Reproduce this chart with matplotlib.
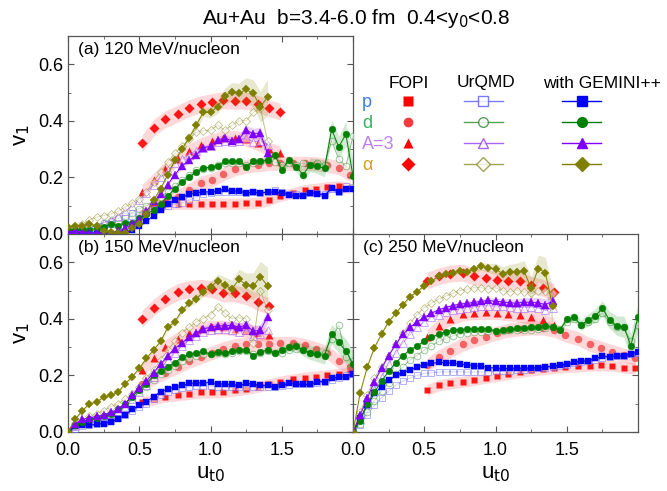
import matplotlib
matplotlib.use('Agg')
import matplotlib.pyplot as plt
from matplotlib.lines import Line2D
from matplotlib.ticker import MultipleLocator

plt.rcParams['font.family'] = ['Liberation Sans', 'DejaVu Sans']
NARROW = ['Liberation Sans Narrow', 'Liberation Sans', 'DejaVu Sans']

# --- rejilla de u_t0 ---
u_model = [0.00, 0.05, 0.10, 0.15, 0.20, 0.25, 0.30, 0.35, 0.40, 0.45,
           0.50, 0.55, 0.60, 0.65, 0.70, 0.75, 0.80, 0.85, 0.90, 0.95,
           1.00, 1.05, 1.10, 1.15, 1.20, 1.25, 1.30, 1.35, 1.40, 1.45,
           1.50, 1.55, 1.60, 1.65, 1.70, 1.75, 1.80, 1.85, 1.90, 1.95, 2.00]
u_fopi = [0.52, 0.60, 0.68, 0.77, 0.85, 0.93, 1.01, 1.09, 1.17, 1.25,
          1.33, 1.41, 1.49, 1.58, 1.66, 1.74, 1.82, 1.90, 1.98]

# --- (a) 120 MeV/nucleon ---
fopi_a_al = [0.32, 0.375, 0.405, 0.425, 0.445, 0.458, 0.467, 0.473, 0.471, 0.471, 0.46, 0.445, 0.433]
fopi_a_t = [0.15, 0.19, 0.23, 0.265, 0.295, 0.315, 0.33, 0.34, 0.34, 0.335, 0.32, 0.30, 0.285]
fopi_a_d = [0.075, 0.095, 0.112, 0.132, 0.155, 0.18, 0.19, 0.212, 0.23, 0.24, 0.245, 0.25, 0.25,
            0.25, 0.25, 0.248, 0.243, 0.235, 0.21]
fopi_a_p = [0.10, 0.105, 0.107, 0.107, 0.107, 0.107, 0.107, 0.107, 0.108, 0.11, 0.12, 0.135,
            0.145, 0.155, 0.16, 0.165, 0.168, 0.163]  # empieza en u=0.60

urqmd_a_al = [0.01, 0.02, 0.035, 0.05, 0.06, 0.065, 0.07, 0.08, 0.095, 0.11,
              0.125, 0.15, 0.185, 0.22, 0.255, 0.285, 0.31, 0.335, 0.36, 0.365,
              0.367, 0.385, 0.366, 0.385, 0.40, 0.40, 0.43, 0.445, 0.33]
urqmd_a_t = [0.0, 0.005, 0.01, 0.02, 0.03, 0.04, 0.05, 0.065, 0.08, 0.1,
             0.12, 0.145, 0.175, 0.2, 0.225, 0.25, 0.265, 0.28, 0.295, 0.305,
             0.31, 0.325, 0.33, 0.325, 0.33, 0.34, 0.326, 0.33, 0.315]
urqmd_a_d = [0.01, 0.015, 0.02, 0.025, 0.03, 0.04, 0.045, 0.055, 0.065, 0.075,
             0.09, 0.1, 0.115, 0.13, 0.15, 0.17, 0.19, 0.21, 0.225, 0.23,
             0.235, 0.245, 0.25, 0.25, 0.25, 0.245, 0.25, 0.255, 0.26, 0.255,
             0.245, 0.25, 0.245, 0.25, 0.245, 0.25, 0.245, 0.33, 0.264, 0.24, 0.346]
urqmd_a_p = [0.0, 0.0, 0.005, 0.01, 0.015, 0.025, 0.035, 0.045, 0.055, 0.065,
             0.07, 0.08, 0.09, 0.095, 0.1, 0.105, 0.11, 0.12, 0.13, 0.14,
             0.145, 0.15, 0.15, 0.15, 0.148, 0.145, 0.148, 0.145, 0.15, 0.155,
             0.15, 0.14, 0.14, 0.138, 0.145, 0.145, 0.14, 0.16, 0.15, 0.17, 0.165]

gem_a_al = [0.025, 0.03, 0.03, 0.035, 0.03, 0.012, 0.006, 0.005, 0.005, 0.02,
            0.035, 0.07, 0.12, 0.16, 0.21, 0.26, 0.30, 0.34, 0.385, 0.43,
            0.43, 0.45, 0.488, 0.503, 0.497, 0.511, 0.497, 0.45, 0.483]
gem_a_t = [0.01, 0.01, 0.008, 0.005, 0.005, 0.005, 0.005, 0.01, 0.02, 0.035,
           0.05, 0.08, 0.115, 0.14, 0.175, 0.21, 0.24, 0.26, 0.28, 0.305,
           0.31, 0.333, 0.338, 0.33, 0.336, 0.367, 0.355, 0.357, 0.285]
gem_a_d = [0.015, 0.015, 0.018, 0.015, 0.02, 0.025, 0.035, 0.03, 0.04, 0.04,
           0.055, 0.07, 0.085, 0.105, 0.135, 0.16, 0.185, 0.2, 0.22, 0.232,
           0.238, 0.24, 0.258, 0.258, 0.258, 0.238, 0.258, 0.258, 0.26, 0.28,
           0.228, 0.26, 0.238, 0.21, 0.245, 0.24, 0.232, 0.37, 0.308, 0.353, 0.205]
gem_a_p = [0.005, 0.003, 0.0, 0.0, 0.0, 0.0, 0.0, 0.0, 0.005, 0.015,
           0.027, 0.045, 0.065, 0.085, 0.105, 0.12, 0.13, 0.14, 0.145, 0.15,
           0.148, 0.153, 0.158, 0.152, 0.152, 0.146, 0.147, 0.145, 0.148, 0.148,
           0.146, 0.138, 0.135, 0.133, 0.146, 0.143, 0.135, 0.164, 0.147, 0.16, 0.16]

# --- (b) 150 MeV/nucleon ---
fopi_b_al = [0.40, 0.44, 0.47, 0.495, 0.505, 0.51, 0.505, 0.49, 0.49, 0.48, 0.46, 0.445]
fopi_b_t = [0.22, 0.26, 0.30, 0.33, 0.35, 0.365, 0.37, 0.37, 0.365, 0.36, 0.35, 0.343]
fopi_b_d = [0.17, 0.19, 0.21, 0.23, 0.25, 0.265, 0.28, 0.295, 0.305, 0.31, 0.31, 0.31, 0.313,
            0.313, 0.306, 0.295, 0.28, 0.25, 0.23]
fopi_b_p = [0.105, 0.115, 0.125, 0.13, 0.135, 0.14, 0.14, 0.142, 0.147, 0.152, 0.16, 0.168,
            0.178, 0.186, 0.192, 0.196, 0.2, 0.205, 0.208]

urqmd_b_al = [0.0, 0.02, 0.04, 0.055, 0.065, 0.075, 0.09, 0.1, 0.115, 0.135,
              0.16, 0.19, 0.22, 0.255, 0.29, 0.32, 0.35, 0.37, 0.39, 0.40,
              0.415, 0.443, 0.42, 0.40, 0.404, 0.40, 0.313, 0.50, 0.43]
urqmd_b_t = [0.0, 0.02, 0.035, 0.04, 0.05, 0.055, 0.065, 0.075, 0.09, 0.115,
             0.14, 0.165, 0.195, 0.225, 0.255, 0.28, 0.305, 0.325, 0.34, 0.355,
             0.36, 0.365, 0.365, 0.36, 0.355, 0.36, 0.34, 0.345, 0.36]
urqmd_b_d = [0.0, 0.02, 0.03, 0.04, 0.045, 0.05, 0.06, 0.07, 0.09, 0.115,
             0.14, 0.16, 0.185, 0.205, 0.22, 0.235, 0.25, 0.26, 0.268, 0.275,
             0.275, 0.28, 0.275, 0.28, 0.285, 0.285, 0.275, 0.28, 0.285, 0.28,
             0.28, 0.29, 0.295, 0.29, 0.28, 0.275, 0.28, 0.33, 0.378, 0.265, 0.25]
urqmd_b_p = [0.0, 0.01, 0.02, 0.025, 0.03, 0.035, 0.04, 0.05, 0.06, 0.075,
             0.09, 0.1, 0.115, 0.13, 0.14, 0.15, 0.155, 0.16, 0.162, 0.163,
             0.162, 0.16, 0.16, 0.158, 0.158, 0.16, 0.16, 0.158, 0.16, 0.158,
             0.162, 0.165, 0.168, 0.168, 0.17, 0.175, 0.178, 0.185, 0.19, 0.2, 0.205]

gem_b_al = [0.0, 0.045, 0.075, 0.1, 0.106, 0.123, 0.13, 0.14, 0.17, 0.195,
            0.225, 0.26, 0.29, 0.32, 0.37, 0.39, 0.43, 0.455, 0.47, 0.495,
            0.513, 0.534, 0.52, 0.505, 0.54, 0.52, 0.515, 0.549, 0.517]
gem_b_t = [0.005, 0.03, 0.045, 0.05, 0.055, 0.06, 0.07, 0.08, 0.1, 0.13,
           0.155, 0.18, 0.21, 0.24, 0.27, 0.295, 0.315, 0.335, 0.35, 0.365,
           0.37, 0.376, 0.375, 0.378, 0.37, 0.378, 0.356, 0.36, 0.407]
gem_b_d = [0.0, 0.025, 0.035, 0.045, 0.05, 0.055, 0.065, 0.08, 0.10, 0.125,
           0.15, 0.17, 0.2, 0.215, 0.23, 0.245, 0.265, 0.275, 0.28, 0.285,
           0.275, 0.283, 0.28, 0.285, 0.29, 0.29, 0.27, 0.283, 0.29, 0.28,
           0.29, 0.30, 0.305, 0.29, 0.28, 0.275, 0.27, 0.346, 0.317, 0.286, 0.24]
gem_b_p = [0.0, 0.02, 0.025, 0.025, 0.027, 0.03, 0.035, 0.045, 0.06, 0.08,
           0.095, 0.107, 0.125, 0.142, 0.152, 0.16, 0.165, 0.172, 0.174, 0.175,
           0.176, 0.17, 0.17, 0.168, 0.165, 0.172, 0.17, 0.165, 0.165, 0.158,
           0.165, 0.172, 0.17, 0.168, 0.168, 0.178, 0.178, 0.19, 0.195, 0.195, 0.205]

# --- (c) 250 MeV/nucleon ---
fopi_c_al = [0.535, 0.55, 0.56, 0.563, 0.55, 0.545, 0.537, 0.534, 0.535, 0.52, 0.51, 0.495]
fopi_c_t = [0.337, 0.375, 0.40, 0.418, 0.422, 0.423, 0.422, 0.418, 0.413, 0.405, 0.395, 0.38]
fopi_c_d = [0.237, 0.266, 0.286, 0.31, 0.325, 0.337, 0.35, 0.36, 0.365, 0.368, 0.368, 0.36,
            0.343, 0.33, 0.31, 0.298, 0.284, 0.272, 0.262]
fopi_c_p = [0.148, 0.165, 0.172, 0.178, 0.184, 0.192, 0.198, 0.205, 0.212, 0.218, 0.222,
            0.227, 0.23, 0.232, 0.235, 0.236, 0.235, 0.228, 0.225]

urqmd_c_al = [0.0, 0.07, 0.13, 0.19, 0.23, 0.27, 0.31, 0.35, 0.385, 0.415,
              0.44, 0.455, 0.47, 0.48, 0.49, 0.50, 0.505, 0.51, 0.51, 0.505,
              0.51, 0.50, 0.495, 0.50, 0.495, 0.49, 0.50, 0.50, 0.49]
urqmd_c_t = [0.0, 0.045, 0.1, 0.15, 0.195, 0.24, 0.28, 0.315, 0.345, 0.37,
             0.39, 0.405, 0.415, 0.425, 0.43, 0.435, 0.44, 0.442, 0.445, 0.447,
             0.445, 0.445, 0.442, 0.44, 0.44, 0.442, 0.44, 0.43, 0.44]
urqmd_c_d = [0.0, 0.03, 0.07, 0.11, 0.145, 0.175, 0.205, 0.23, 0.255, 0.27,
             0.29, 0.305, 0.32, 0.33, 0.34, 0.345, 0.35, 0.352, 0.355, 0.357,
             0.357, 0.358, 0.36, 0.36, 0.362, 0.362, 0.365, 0.368, 0.37, 0.365,
             0.39, 0.40, 0.38, 0.39, 0.40, 0.42, 0.39, 0.37, 0.37, 0.32, 0.38]
urqmd_c_p = [0.0, 0.025, 0.06, 0.095, 0.12, 0.145, 0.165, 0.18, 0.19, 0.2,
             0.207, 0.21, 0.212, 0.213, 0.213, 0.213, 0.212, 0.212, 0.212, 0.213,
             0.214, 0.215, 0.216, 0.218, 0.22, 0.222, 0.225, 0.228, 0.23, 0.233,
             0.237, 0.243, 0.248, 0.25, 0.255, 0.262, 0.265, 0.268, 0.27, 0.275, 0.28]

gem_c_al = [0.0, 0.137, 0.23, 0.298, 0.346, 0.39, 0.42, 0.45, 0.478, 0.496,
            0.517, 0.534, 0.55, 0.558, 0.562, 0.57, 0.567, 0.575, 0.586, 0.58,
            0.576, 0.56, 0.565, 0.565, 0.57, 0.508, 0.578, 0.563, 0.446]
gem_c_t = [0.0, 0.06, 0.12, 0.178, 0.225, 0.27, 0.31, 0.345, 0.37, 0.39,
           0.405, 0.42, 0.432, 0.44, 0.447, 0.452, 0.455, 0.458, 0.462, 0.465,
           0.462, 0.46, 0.457, 0.455, 0.46, 0.458, 0.457, 0.45, 0.462]
gem_c_d = [0.0, 0.04, 0.1, 0.14, 0.18, 0.215, 0.245, 0.27, 0.29, 0.305,
           0.32, 0.335, 0.345, 0.355, 0.36, 0.362, 0.364, 0.365, 0.365, 0.365,
           0.357, 0.36, 0.364, 0.366, 0.368, 0.37, 0.372, 0.376, 0.372, 0.36,
           0.398, 0.407, 0.378, 0.396, 0.411, 0.437, 0.396, 0.376, 0.372, 0.305, 0.407]
gem_c_p = [0.0, 0.048, 0.095, 0.137, 0.16, 0.184, 0.2, 0.21, 0.219, 0.23,
           0.238, 0.243, 0.246, 0.245, 0.243, 0.24, 0.238, 0.235, 0.233, 0.228,
           0.226, 0.225, 0.225, 0.226, 0.225, 0.226, 0.228, 0.23, 0.233, 0.237,
           0.24, 0.248, 0.25, 0.252, 0.26, 0.268, 0.265, 0.268, 0.27, 0.275, 0.284]

# --- bandas de error estadistico del modelo (semi-anchura) ---
err_al = [0.004, 0.004, 0.004, 0.004, 0.004, 0.004, 0.004, 0.004, 0.005, 0.005,
          0.005, 0.006, 0.006, 0.007, 0.008, 0.009, 0.01, 0.012, 0.014, 0.016,
          0.02, 0.024, 0.028, 0.032, 0.036, 0.042, 0.048, 0.055, 0.065]
err_t = [0.003, 0.003, 0.003, 0.003, 0.003, 0.003, 0.003, 0.004, 0.004, 0.004,
         0.005, 0.005, 0.005, 0.006, 0.006, 0.007, 0.008, 0.008, 0.009, 0.01,
         0.011, 0.012, 0.013, 0.014, 0.015, 0.017, 0.019, 0.021, 0.024]
err_d = [0.003, 0.003, 0.003, 0.003, 0.003, 0.003, 0.003, 0.003, 0.004, 0.004,
         0.004, 0.004, 0.004, 0.004, 0.005, 0.005, 0.005, 0.005, 0.005, 0.005,
         0.006, 0.006, 0.006, 0.006, 0.006, 0.007, 0.008, 0.009, 0.01, 0.012,
         0.014, 0.016, 0.018, 0.021, 0.024, 0.027, 0.03, 0.034, 0.038, 0.043, 0.048]
err_p = [0.003, 0.003, 0.003, 0.003, 0.003, 0.003, 0.003, 0.003, 0.003, 0.003,
         0.003, 0.003, 0.003, 0.003, 0.003, 0.003, 0.003, 0.003, 0.004, 0.004,
         0.004, 0.004, 0.004, 0.004, 0.004, 0.005, 0.005, 0.005, 0.005, 0.005,
         0.006, 0.006, 0.006, 0.007, 0.007, 0.007, 0.008, 0.008, 0.009, 0.009, 0.01]

especies = ['p', 'd', 't', 'al']
marcador = {'p': 's', 'd': 'o', 't': '^', 'al': 'D'}
tam = {'p': 4.2, 'd': 4.8, 't': 5.2, 'al': 4.4}
col_gem = {'p': '#0000ff', 'd': '#008000', 't': '#8000ff', 'al': '#808000'}
col_urq = {'p': '#5a5aff', 'd': '#2e8b2e', 't': '#9340ff', 'al': '#8c8c2a'}
col_fopi = {'p': '#ff0000', 'd': '#f03c3c', 't': '#ff0000', 'al': '#ff0000'}
ancho_fopi = {'p': 0.02, 'd': 0.025, 't': 0.025, 'al': 0.03}
errores = {'p': err_p, 'd': err_d, 't': err_t, 'al': err_al}

paneles = {
    'a': ({'p': fopi_a_p, 'd': fopi_a_d, 't': fopi_a_t, 'al': fopi_a_al},
          {'p': urqmd_a_p, 'd': urqmd_a_d, 't': urqmd_a_t, 'al': urqmd_a_al},
          {'p': gem_a_p, 'd': gem_a_d, 't': gem_a_t, 'al': gem_a_al}),
    'b': ({'p': fopi_b_p, 'd': fopi_b_d, 't': fopi_b_t, 'al': fopi_b_al},
          {'p': urqmd_b_p, 'd': urqmd_b_d, 't': urqmd_b_t, 'al': urqmd_b_al},
          {'p': gem_b_p, 'd': gem_b_d, 't': gem_b_t, 'al': gem_b_al}),
    'c': ({'p': fopi_c_p, 'd': fopi_c_d, 't': fopi_c_t, 'al': fopi_c_al},
          {'p': urqmd_c_p, 'd': urqmd_c_d, 't': urqmd_c_t, 'al': urqmd_c_al},
          {'p': gem_c_p, 'd': gem_c_d, 't': gem_c_t, 'al': gem_c_al}),
}
etiquetas = {'a': '(a) 120 MeV/nucleon', 'b': '(b) 150 MeV/nucleon', 'c': '(c) 250 MeV/nucleon'}


def u_de_fopi(v):
    # los datos FOPI terminan en la rejilla; si hay menos puntos de los esperados empiezan despues
    if len(v) == 18:
        return u_fopi[1:]
    return u_fopi[:len(v)]


def dibujar_panel(ax, clave):
    fopi, urq, gem = paneles[clave]
    for s in especies:
        u = u_de_fopi(fopi[s])
        lo = [v - ancho_fopi[s] for v in fopi[s]]
        hi = [v + ancho_fopi[s] for v in fopi[s]]
        ax.fill_between(u, lo, hi, color='#ff0000', alpha=0.15, lw=0, zorder=1)
        ax.plot(u, fopi[s], ls='none', marker=marcador[s], ms=tam[s] + 0.6,
                color=col_fopi[s], mec='none', alpha=0.9 if s != 'd' else 0.75, zorder=2)
    for s in especies:
        um = u_model[:len(urq[s])]
        ax.plot(um, urq[s], color=col_urq[s], lw=0.7, marker=marcador[s], ms=tam[s],
                mfc='white', mec=col_urq[s], mew=0.6, alpha=0.55, zorder=3)
    for s in especies:
        um = u_model[:len(gem[s])]
        e = errores[s][:len(gem[s])]
        ax.fill_between(um, [v - x for v, x in zip(gem[s], e)], [v + x for v, x in zip(gem[s], e)],
                        color=col_gem[s], alpha=0.18, lw=0, zorder=3.5)
        ax.plot(um, gem[s], color=col_gem[s], lw=0.7, marker=marcador[s], ms=tam[s],
                mec=col_gem[s], mew=0.3, zorder=4)

    ax.set_xlim(0, 2.0)
    ax.set_ylim(0, 0.7)
    ax.xaxis.set_major_locator(MultipleLocator(0.5))
    ax.xaxis.set_minor_locator(MultipleLocator(0.25))
    ax.yaxis.set_major_locator(MultipleLocator(0.2))
    ax.yaxis.set_minor_locator(MultipleLocator(0.1))
    ax.tick_params(which='both', direction='in', top=True, right=True, color='#555555')
    ax.tick_params(which='major', length=4, labelsize=13)
    ax.tick_params(which='minor', length=2.5)
    ax.tick_params(axis='x', which='major', pad=7)
    for sp in ax.spines.values():
        sp.set_color('#555555')
        sp.set_linewidth(0.9)
    ax.text(0.035, 0.93, etiquetas[clave], transform=ax.transAxes, ha='left', va='center',
            fontsize=12.5, zorder=10)


fig = plt.figure(figsize=(6.67, 4.91), dpi=100)
W, H = 667.0, 491.0
ax_a = fig.add_axes([68 / W, 1 - 234 / H, 285 / W, 198 / H])
ax_b = fig.add_axes([68 / W, 1 - 432 / H, 285 / W, 198 / H])
ax_c = fig.add_axes([353 / W, 1 - 432 / H, 285 / W, 198 / H])

for ax, clave in [(ax_a, 'a'), (ax_b, 'b'), (ax_c, 'c')]:
    dibujar_panel(ax, clave)

ax_a.tick_params(labelbottom=False)
ax_c.tick_params(labelleft=False)
for ax in (ax_a, ax_b):
    ax.set_yticks([0.0, 0.2, 0.4, 0.6])
    ax.set_yticklabels(['0.0', '0.2', '0.4', '0.6'], family=NARROW)
    ax.set_ylabel('v$_1$', fontsize=16, family=NARROW, labelpad=4)
for ax in (ax_b, ax_c):
    ax.set_xticks([0.0, 0.5, 1.0, 1.5])
    ax.set_xticklabels(['0.0', '0.5', '1.0', '1.5'], family=NARROW)
    ax.set_xlabel('u$_{\\mathrm{t0}}$', fontsize=16, family=NARROW, labelpad=3)

fig.text(356 / W, 1 - 19 / H, 'Au+Au  b=3.4-6.0 fm  0.4<y$_0$<0.8', ha='center', va='center',
         fontsize=15, family=NARROW)

# --- leyenda en forma de tabla ---
nombres = ['p', 'd', 'A=3', 'α']
col_nombres = ['#3d7fe0', '#3cb060', '#c080f0', '#d4a020']
fila_y = 1 - 134 / H
kw = dict(frameon=False, fontsize=13, labelspacing=0.22, borderpad=0, borderaxespad=0,
          handletextpad=0, numpoints=1, loc='center')

h_nom = [Line2D([], [], ls='none') for _ in nombres]
leg0 = fig.legend(h_nom, nombres, bbox_to_anchor=(362 / W, fila_y), handlelength=0,
                  **{**kw, 'loc': 'center left'})
for txt, c in zip(leg0.get_texts(), col_nombres):
    txt.set_color(c)

h_fopi = [Line2D([], [], ls='none', marker=marcador[s], color=col_fopi[s], ms=7, mec='none')
          for s in especies]
fig.legend(h_fopi, [' '] * 4, bbox_to_anchor=(411 / W, fila_y), handlelength=1.1, **kw)
h_urq = [Line2D([], [], color=col_urq[s], lw=1, marker=marcador[s], ms=7, mfc='white',
                mec=col_urq[s], alpha=0.8) for s in especies]
fig.legend(h_urq, [' '] * 4, bbox_to_anchor=(486 / W, fila_y), handlelength=2.2, **kw)
h_gem = [Line2D([], [], color=col_gem[s], lw=1, marker=marcador[s], ms=7) for s in especies]
fig.legend(h_gem, [' '] * 4, bbox_to_anchor=(584 / W, fila_y), handlelength=2.2, **kw)

for x, t in [(409, 'FOPI'), (486, 'UrQMD'), (602, 'with GEMINI++')]:
    fig.text(x / W, 1 - 83 / H, t, ha='center', va='center', fontsize=12.5)

fig.savefig('out.png', dpi=100)
